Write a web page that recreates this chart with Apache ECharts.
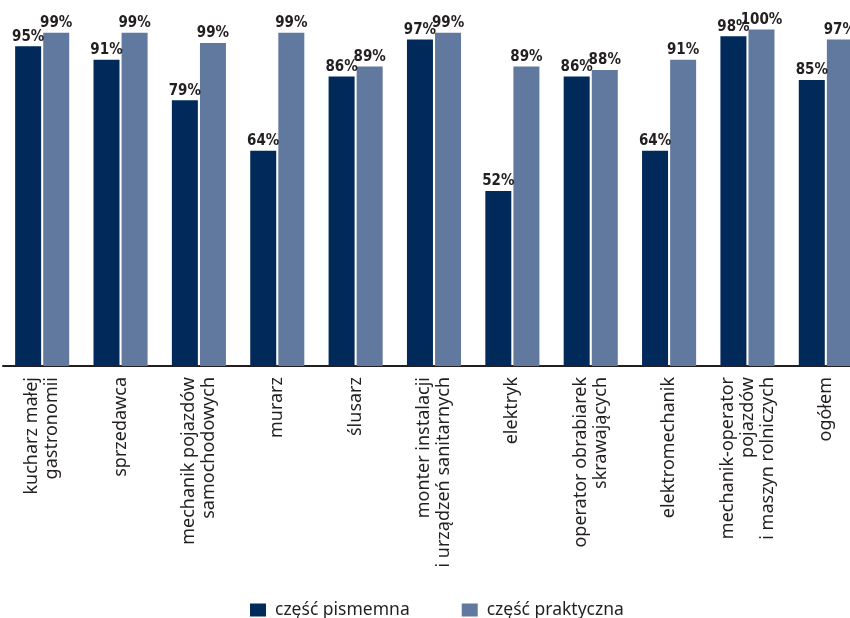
<!DOCTYPE html>
<html>
<head>
<meta charset="utf-8">
<script src="https://cdn.jsdelivr.net/npm/echarts@6/dist/echarts.min.js"></script>
<style>html,body{margin:0;padding:0;background:#fff}#c{width:850px;height:618px}</style>
</head>
<body>
<div id="c"></div>
<script>
const categories = [
  'kucharz małej\ngastronomii',
  'sprzedawca',
  'mechanik pojazdów\nsamochodowych',
  'murarz',
  'ślusarz',
  'monter instalacji\ni urządzeń sanitarnych',
  'elektryk',
  'operator obrabiarek\nskrawających',
  'elektromechanik',
  'mechanik-operator\npojazdów\ni maszyn rolniczych',
  'ogółem'
];
const seriesNames = ['część pismemna', 'część praktyczna'];
const pisemna = [95, 91, 79, 64, 86, 97, 52, 86, 64, 98, 85];
const praktyczna = [99, 99, 96, 99, 89, 99, 89, 88, 91, 100, 97];
const pisemnaLabels = ['95%', '91%', '79%', '64%', '86%', '97%', '52%', '86%', '64%', '98%', '85%'];
const praktycznaLabels = ['99%', '99%', '99%', '99%', '89%', '99%', '89%', '88%', '91%', '100%', '97%'];

const chart = echarts.init(document.getElementById('c'), null, {renderer: 'canvas'});
const labelStyle = {
  show: true,
  position: 'top',
  distance: 2,
  color: '#231f20',
  fontSize: 15,
  fontWeight: 'bold',
  fontFamily: "'Liberation Sans Narrow', 'DejaVu Sans Condensed', sans-serif"
};
chart.setOption({
  animation: false,
  grid: {left: 3, top: 29.5, width: 862, height: 336.5, containLabel: false, outerBoundsMode: 'none'},
  legend: {
    left: 245, top: 596,
    itemWidth: 16, itemHeight: 13, itemGap: 52,
    icon: 'rect',
    textStyle: {fontSize: 17.5, color: '#231f20', fontFamily: "'Noto Sans', sans-serif", padding: [0, 0, 0, 4]},
    data: seriesNames
  },
  xAxis: {
    type: 'category',
    data: categories,
    axisLine: {lineStyle: {color: '#231f20', width: 2}},
    axisTick: {show: false},
    axisLabel: {
      interval: 0, rotate: 90, margin: 11,
      fontSize: 18, lineHeight: 20, color: '#231f20',
      fontFamily: "'Noto Sans', sans-serif"
    }
  },
  yAxis: {
    type: 'value', min: 0, max: 100,
    show: false,
    splitLine: {show: false}
  },
  series: [
    {
      name: seriesNames[0], type: 'bar', data: pisemna,
      barWidth: 26, barGap: '8%',
      itemStyle: {color: '#012a5b'},
      label: Object.assign({}, labelStyle, {formatter: p => pisemnaLabels[p.dataIndex]})
    },
    {
      name: seriesNames[1], type: 'bar', data: praktyczna,
      barWidth: 26,
      itemStyle: {color: '#61789f'},
      label: Object.assign({}, labelStyle, {formatter: p => praktycznaLabels[p.dataIndex]})
    }
  ]
});
</script>
</body>
</html>
